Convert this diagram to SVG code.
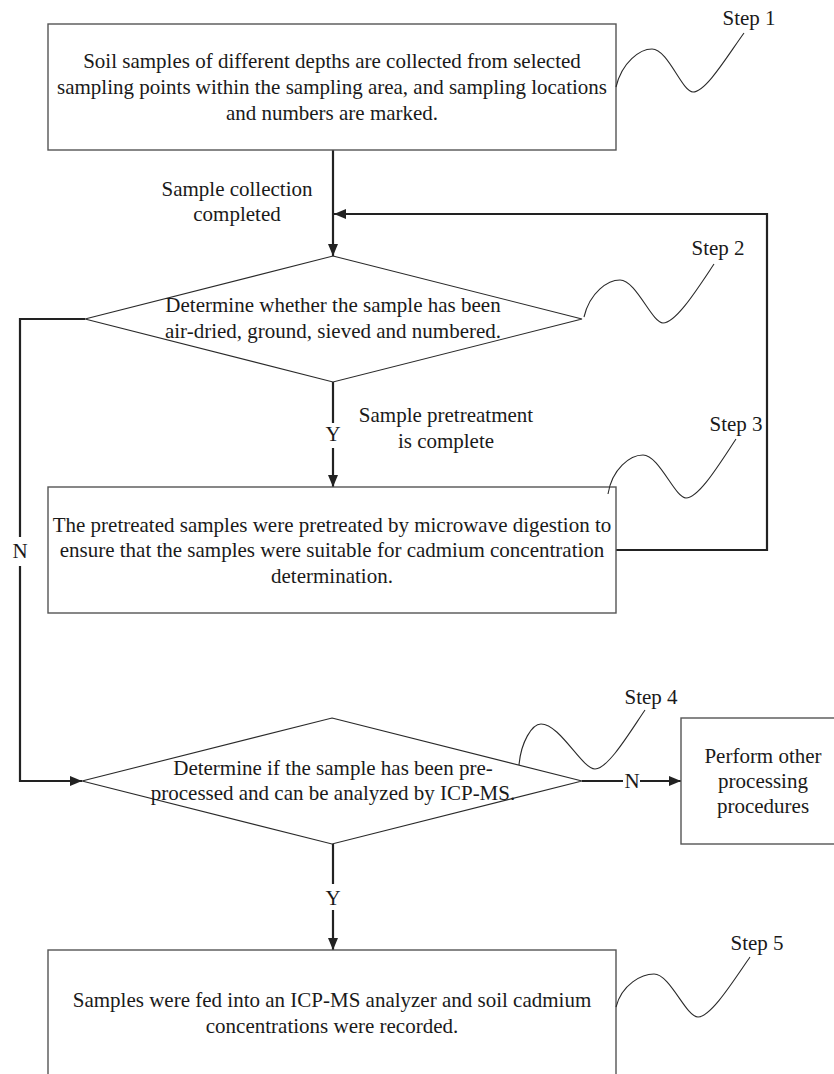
<svg xmlns="http://www.w3.org/2000/svg" width="834" height="1074" viewBox="0 0 834 1074">
<style>
text{font-family:"Liberation Serif","Times New Roman",serif;font-size:21px;fill:#1a1a1a;text-anchor:middle}
.box{fill:#fff;stroke:#555;stroke-width:1.4}
.dia{fill:#fff;stroke:#2a2a2a;stroke-width:1.1}
.wave{fill:none;stroke:#2a2a2a;stroke-width:1.1}
.con{fill:none;stroke:#222;stroke-width:2.2}
</style>
<defs>
<marker id="ah" markerWidth="12" markerHeight="10" refX="12" refY="5" orient="auto" markerUnits="userSpaceOnUse">
<path d="M0,0 L12,5 L0,10 Z" fill="#222"/>
</marker>
</defs>
<rect width="834" height="1074" fill="#fff"/>
<g id="connectors">
<line class="con" x1="333" y1="150" x2="333" y2="256" marker-end="url(#ah)"/>
<polyline class="con" points="616,550 767,550 767,214 334,214" marker-end="url(#ah)"/>
<polyline class="con" points="85,319 20,319 20,537"/>
<polyline class="con" points="20,566 20,781 82,781" marker-end="url(#ah)"/>
<line class="con" x1="333" y1="382" x2="333" y2="423"/>
<line class="con" x1="333" y1="448" x2="333" y2="487" marker-end="url(#ah)"/>
<line class="con" x1="582" y1="781" x2="623" y2="781"/>
<line class="con" x1="640" y1="781" x2="681" y2="781" marker-end="url(#ah)"/>
<line class="con" x1="333" y1="844" x2="333" y2="884"/>
<line class="con" x1="333" y1="910" x2="333" y2="950" marker-end="url(#ah)"/>
<text x="237" y="196">Sample collection</text>
<text x="237" y="221">completed</text>
<text x="333" y="441">Y</text>
<text x="446" y="422">Sample pretreatment</text>
<text x="446" y="448">is complete</text>
<text x="20" y="558">N</text>
<text x="632" y="788">N</text>
<text x="333" y="905">Y</text>
</g>
<g id="step1">
<rect class="box" x="48" y="24" width="568" height="126"/>
<text x="332" y="68">Soil samples of different depths are collected from selected</text>
<text x="332" y="94">sampling points within the sampling area, and sampling locations</text>
<text x="332" y="120">and numbers are marked.</text>
<path class="wave" d="M616,87 C622,62 640,49 652,49 C668,49 682,92 693,92 C706,92 728,55 744,33"/>
<text x="749" y="25">Step 1</text>
</g>
<g id="step2">
<polygon class="dia" points="333,256 582,319 333,382 85,319"/>
<text x="333" y="312">Determine whether the sample has been</text>
<text x="333" y="338">air-dried, ground, sieved and numbered.</text>
<path class="wave" d="M584,317 C590,292 608,280 620,280 C636,280 652,323 663,323 C676,323 698,288 714,264"/>
<text x="718" y="255">Step 2</text>
</g>
<g id="step3">
<rect class="box" x="48" y="487" width="568" height="126"/>
<text x="332" y="532">The pretreated samples were pretreated by microwave digestion to</text>
<text x="332" y="557">ensure that the samples were suitable for cadmium concentration</text>
<text x="332" y="583">determination.</text>
<path class="wave" d="M608,494 C612,469 630,455 643,455 C659,455 675,498 686,498 C699,498 720,463 736,439"/>
<text x="736" y="431">Step 3</text>
</g>
<g id="step4">
<polygon class="dia" points="332,718 582,781 332,844 82,781"/>
<text x="333" y="775">Determine if the sample has been pre-</text>
<text x="333" y="800">processed and can be analyzed by ICP-MS.</text>
<path class="wave" d="M519,765 C521,742 532,724 541,724 C560,724 582,769 595,769 C608,769 630,732 645,710"/>
<text x="651" y="704">Step 4</text>
</g>
<g id="other">
<rect class="box" x="681" y="718" width="170" height="126"/>
<text x="763" y="763">Perform other</text>
<text x="763" y="788">processing</text>
<text x="763" y="813">procedures</text>
</g>
<g id="step5">
<rect class="box" x="48" y="950" width="568" height="140"/>
<text x="332" y="1007">Samples were fed into an ICP-MS analyzer and soil cadmium</text>
<text x="332" y="1033">concentrations were recorded.</text>
<path class="wave" d="M616,1007 C622,984 642,974 654,974 C670,974 686,1017 698,1017 C711,1017 734,980 750,957"/>
<text x="757" y="950">Step 5</text>
</g>
</svg>
